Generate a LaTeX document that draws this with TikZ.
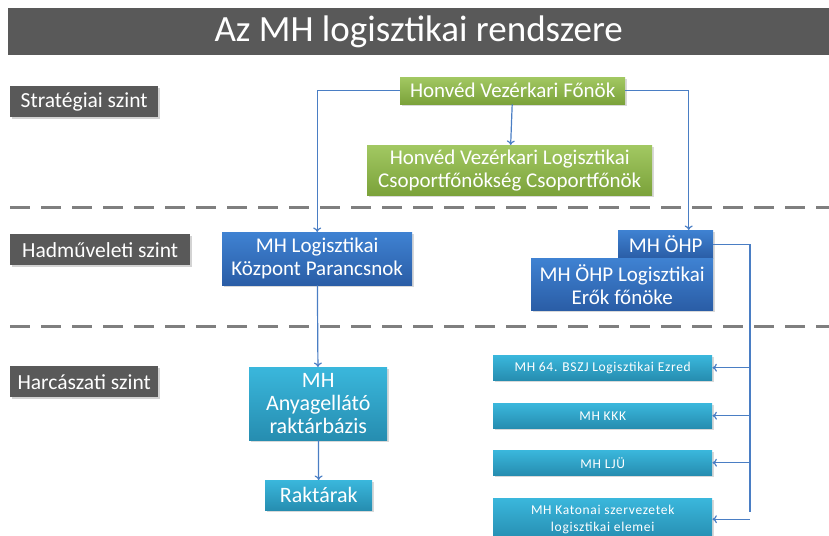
\documentclass[tikz,border=0pt]{standalone}
\usepackage{fontspec}
\setmainfont{Carlito}
\newfontfamily\spacedfont[LetterSpace=5]{Carlito}
\usetikzlibrary{arrows.meta,shadows}

\definecolor{barGray}{HTML}{595959}
\definecolor{grnTop}{HTML}{A2C862}
\definecolor{grnBot}{HTML}{7BA23A}
\definecolor{bluTop}{HTML}{3F82D2}
\definecolor{bluBot}{HTML}{2A5DA6}
\definecolor{aqTop}{HTML}{3AB7DC}
\definecolor{aqBot}{HTML}{268DB0}
\definecolor{lineBlue}{HTML}{4A7EC4}
\definecolor{sepGray}{HTML}{7F7F7F}

\begin{document}
\begin{tikzpicture}[x=1pt, y=-1pt,
		bar/.style={fill=barGray, text=white, anchor=north west, inner sep=0pt},
		lvl/.style={fill=barGray, text=white, anchor=north west, inner sep=0pt,
			font=\fontsize{21.5}{24}\selectfont,
			drop shadow={opacity=0.35, shadow xshift=1.5pt, shadow yshift=-1.5pt}},
		box/.style={anchor=north west, inner sep=0pt, text=white, align=center,
			drop shadow={opacity=0.3, shadow xshift=1.5pt, shadow yshift=-1.5pt}},
		grnbox/.style={box, top color=grnTop, bottom color=grnBot,
			font=\fontsize{21}{23}\selectfont},
		bluebox/.style={box, top color=bluTop, bottom color=bluBot,
			font=\fontsize{21}{23}\selectfont},
		aquabox/.style={box, top color=aqTop, bottom color=aqBot,
			font=\fontsize{22}{23}\selectfont},
		smallbox/.style={box, top color=aqTop, bottom color=aqBot,
			font=\spacedfont\fontsize{13.5}{17}\selectfont},
		wire/.style={draw=lineBlue, line width=1.2pt},
		link/.style={wire, -{To[length=4.5pt,width=8pt]}},
		sep/.style={draw=sepGray, line width=3pt, dash pattern=on 20pt off 11pt}]
		\useasboundingbox (0,0) rectangle (829,535);

		% title and levels
		\node[bar, minimum width=821pt, minimum height=47pt,
			font=\fontsize{37}{40}\selectfont] (title) at (8,8) {Az MH logisztikai rendszere};
		\node[lvl, minimum width=148pt, minimum height=31pt] (strat) at (10,86) {Stratégiai szint};
		\node[lvl, minimum width=180pt, minimum height=31pt] (hadm) at (10,234) {Hadműveleti szint};
		\node[lvl, minimum width=148pt, minimum height=31pt] (harc) at (10,366) {Harcászati szint};
		\draw[sep] (10,207) -- (829,207);
		\draw[sep] (10,326) -- (829,326);

		% strategic
		\node[grnbox, minimum width=225pt, minimum height=27pt] (hvf) at (400,77) {Honvéd Vezérkari Főnök};
		\node[grnbox, minimum width=285pt, minimum height=50pt] (csf) at (367,145)
			{Honvéd Vezérkari Logisztikai\\Csoportfőnökség Csoportfőnök};

		% operational
		\node[bluebox, minimum width=190pt, minimum height=53pt] (mhlk) at (222,232)
			{MH Logisztikai\\Központ Parancsnok};
		\node[bluebox, minimum width=95pt, minimum height=28pt] (ohp) at (618,230) {MH ÖHP};
		\node[bluebox, minimum width=182pt, minimum height=52pt] (ohple) at (531,258)
			{MH ÖHP Logisztikai\\Erők főnöke};

		% tactical
		\node[aquabox, minimum width=138pt, minimum height=73pt] (anyag) at (249,367)
			{MH\\Anyagellátó\\raktárbázis};
		\node[aquabox, minimum width=107pt, minimum height=30pt] (rakt) at (265,480) {Raktárak};
		\node[smallbox, minimum width=219pt, minimum height=25pt] (ezred) at (493,355)
			{MH 64. BSZJ Logisztikai Ezred};
		\node[smallbox, minimum width=219pt, minimum height=25pt] (kkk) at (493,403) {MH KKK};
		\node[smallbox, minimum width=219pt, minimum height=25pt] (lju) at (493,450) {MH LJÜ};
		\node[smallbox, minimum width=219pt, minimum height=42pt] (katsz) at (493,498)
			{MH Katonai szervezetek\\logisztikai elemei};

		% connectors
		\draw[link] (hvf.west) -| (mhlk.north);
		\draw[link] (hvf.east) -| ([xshift=23pt]ohp.north);
		\draw[link] (hvf) -- (csf);
		\draw[link] (mhlk) -- (anyag);
		\draw[link] (anyag) -- (rakt);
		\coordinate (bus) at (750,512);
		\draw[wire] (ohp.east) -| (bus);
		\draw[link] (ezred.east -| bus) -- (ezred.east);
		\draw[link] (kkk.east -| bus) -- (kkk.east);
		\draw[link] (lju.east -| bus) -- (lju.east);
		\draw[link] (katsz.east -| bus) -- (katsz.east);
	\end{tikzpicture}
\end{document}
